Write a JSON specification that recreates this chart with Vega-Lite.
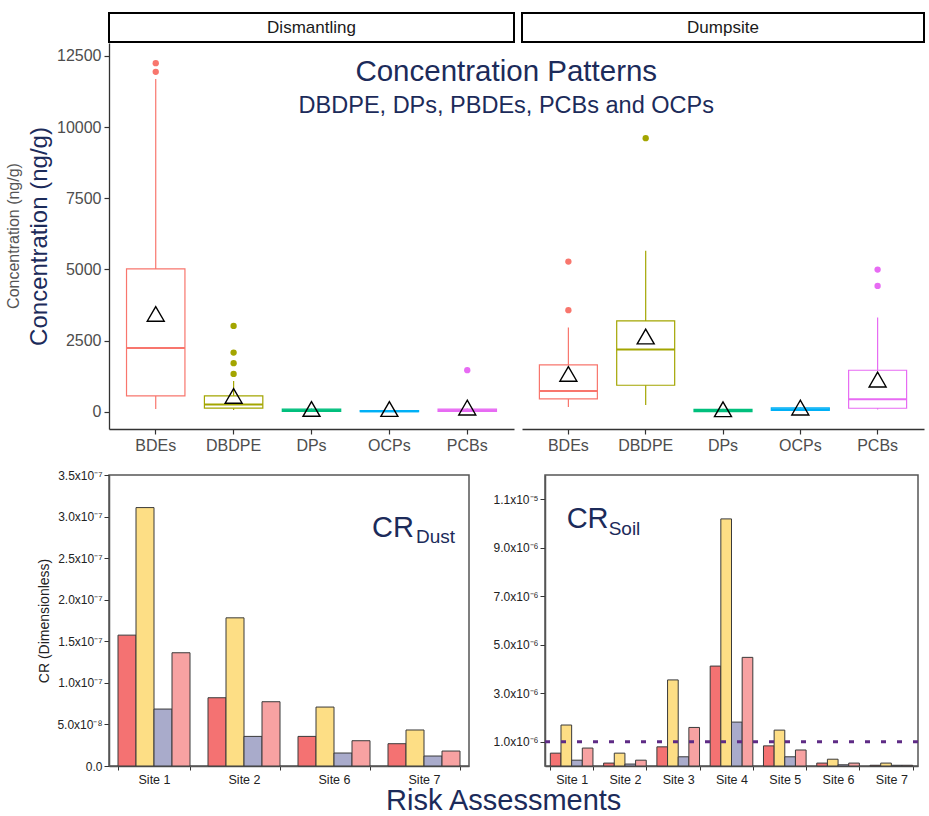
{
  "$schema": "https://vega.github.io/schema/vega-lite/v6.json",
  "background": "white",
  "padding": {"top": 12, "left": 5, "right": 0, "bottom": 0},
  "config": {
    "font": "Liberation Sans",
    "view": {"stroke": null},
    "axis": {"grid": false, "labelFont": "Liberation Sans", "titleFont": "Liberation Sans"},
    "title": {"font": "Liberation Sans", "subtitleFont": "Liberation Sans"}
  },
  "resolve": {"scale": {"color": "independent", "fill": "independent", "stroke": "independent"}},
  "datasets": {
    "box": [
      {"site": "Dismantling", "compound": "BDEs", "lower": 105, "q1": 562, "median": 2247, "q3": 5020, "upper": 11690, "mean": 3440},
      {"site": "Dismantling", "compound": "DBDPE", "lower": 70, "q1": 130, "median": 256, "q3": 562, "upper": 1088, "mean": 562},
      {"site": "Dismantling", "compound": "DPs", "lower": 10, "q1": 20, "median": 60, "q3": 100, "upper": 120, "mean": 105},
      {"site": "Dismantling", "compound": "OCPs", "lower": 5, "q1": 10, "median": 25, "q3": 45, "upper": 60, "mean": 100},
      {"site": "Dismantling", "compound": "PCBs", "lower": 10, "q1": 20, "median": 60, "q3": 100, "upper": 130, "mean": 150},
      {"site": "Dumpsite", "compound": "BDEs", "lower": 176, "q1": 456, "median": 737, "q3": 1650, "upper": 2960, "mean": 1334},
      {"site": "Dumpsite", "compound": "DBDPE", "lower": 246, "q1": 936, "median": 2188, "q3": 3195, "upper": 5653, "mean": 2645},
      {"site": "Dumpsite", "compound": "DPs", "lower": 5, "q1": 10, "median": 47, "q3": 90, "upper": 110, "mean": 94},
      {"site": "Dumpsite", "compound": "OCPs", "lower": 40, "q1": 50, "median": 94, "q3": 140, "upper": 160, "mean": 150},
      {"site": "Dumpsite", "compound": "PCBs", "lower": 82, "q1": 129, "median": 444, "q3": 1463, "upper": 3312, "mean": 1135}
    ],
    "outliers": [
      {"site": "Dismantling", "compound": "BDEs", "value": 11937},
      {"site": "Dismantling", "compound": "BDEs", "value": 12243},
      {"site": "Dismantling", "compound": "DBDPE", "value": 1334},
      {"site": "Dismantling", "compound": "DBDPE", "value": 1710},
      {"site": "Dismantling", "compound": "DBDPE", "value": 2082},
      {"site": "Dismantling", "compound": "DBDPE", "value": 3019},
      {"site": "Dismantling", "compound": "PCBs", "value": 1464},
      {"site": "Dumpsite", "compound": "BDEs", "value": 3570},
      {"site": "Dumpsite", "compound": "BDEs", "value": 5277},
      {"site": "Dumpsite", "compound": "DBDPE", "value": 9609},
      {"site": "Dumpsite", "compound": "PCBs", "value": 4424},
      {"site": "Dumpsite", "compound": "PCBs", "value": 4996}
    ],
    "dust": [
      {"site": "Site 1", "series": "S1", "cr": 1.574e-7},
      {"site": "Site 1", "series": "S2", "cr": 3.108e-7},
      {"site": "Site 1", "series": "S3", "cr": 0.685e-7},
      {"site": "Site 1", "series": "S4", "cr": 1.362e-7},
      {"site": "Site 2", "series": "S1", "cr": 0.821e-7},
      {"site": "Site 2", "series": "S2", "cr": 1.782e-7},
      {"site": "Site 2", "series": "S3", "cr": 0.356e-7},
      {"site": "Site 2", "series": "S4", "cr": 0.773e-7},
      {"site": "Site 6", "series": "S1", "cr": 0.356e-7},
      {"site": "Site 6", "series": "S2", "cr": 0.709e-7},
      {"site": "Site 6", "series": "S3", "cr": 0.156e-7},
      {"site": "Site 6", "series": "S4", "cr": 0.304e-7},
      {"site": "Site 7", "series": "S1", "cr": 0.268e-7},
      {"site": "Site 7", "series": "S2", "cr": 0.433e-7},
      {"site": "Site 7", "series": "S3", "cr": 0.12e-7},
      {"site": "Site 7", "series": "S4", "cr": 0.18e-7}
    ],
    "soil": [
      {"site": "Site 1", "series": "S1", "cr": 0.53e-6},
      {"site": "Site 1", "series": "S2", "cr": 1.69e-6},
      {"site": "Site 1", "series": "S3", "cr": 0.24e-6},
      {"site": "Site 1", "series": "S4", "cr": 0.74e-6},
      {"site": "Site 2", "series": "S1", "cr": 0.12e-6},
      {"site": "Site 2", "series": "S2", "cr": 0.53e-6},
      {"site": "Site 2", "series": "S3", "cr": 0.08e-6},
      {"site": "Site 2", "series": "S4", "cr": 0.24e-6},
      {"site": "Site 3", "series": "S1", "cr": 0.79e-6},
      {"site": "Site 3", "series": "S2", "cr": 3.55e-6},
      {"site": "Site 3", "series": "S3", "cr": 0.38e-6},
      {"site": "Site 3", "series": "S4", "cr": 1.59e-6},
      {"site": "Site 4", "series": "S1", "cr": 4.12e-6},
      {"site": "Site 4", "series": "S2", "cr": 10.19e-6},
      {"site": "Site 4", "series": "S3", "cr": 1.81e-6},
      {"site": "Site 4", "series": "S4", "cr": 4.48e-6},
      {"site": "Site 5", "series": "S1", "cr": 0.83e-6},
      {"site": "Site 5", "series": "S2", "cr": 1.48e-6},
      {"site": "Site 5", "series": "S3", "cr": 0.38e-6},
      {"site": "Site 5", "series": "S4", "cr": 0.66e-6},
      {"site": "Site 6", "series": "S1", "cr": 0.12e-6},
      {"site": "Site 6", "series": "S2", "cr": 0.28e-6},
      {"site": "Site 6", "series": "S3", "cr": 0.05e-6},
      {"site": "Site 6", "series": "S4", "cr": 0.12e-6},
      {"site": "Site 7", "series": "S1", "cr": 0.03e-6},
      {"site": "Site 7", "series": "S2", "cr": 0.12e-6},
      {"site": "Site 7", "series": "S3", "cr": 0.03e-6},
      {"site": "Site 7", "series": "S4", "cr": 0.03e-6}
    ]
  },
  "vconcat": [
    {
      "title": {"text": "Concentration Patterns", "subtitle": "DBDPE, DPs, PBDEs, PCBs and OCPs", "fontSize": 29.5, "subtitleFontSize": 23.5, "color": "#1C2B5A", "subtitleColor": "#1C2B5A", "fontWeight": "normal", "anchor": "middle", "offset": -106, "subtitlePadding": 6, "dx": 41},
      "spacing": 6,
      "hconcat": [
        {
          "spacing": 0,
          "vconcat": [
            {"width": 405, "height": 29, "view": {"stroke": "black", "strokeWidth": 2, "fill": "white"}, "data": {"values": [{"label": "Dismantling"}]}, "mark": {"type": "text", "fontSize": 17, "color": "#1A1A1A"}, "encoding": {"text": {"field": "label"}}},
            {
              "width": 405, "height": 386,
              "data": {"name": "box"},
              "transform": [{"filter": "datum.site === 'Dismantling'"}],
              "title": {"text": "Concentration (ng/g)", "orient": "left", "fontSize": 16, "color": "#555555", "fontWeight": "normal", "offset": 6},
              "encoding": {
                "x": {"field": "compound", "type": "nominal", "title": null, "scale": {"domain": ["BDEs", "DBDPE", "DPs", "OCPs", "PCBs"], "paddingInner": 0.25, "paddingOuter": 0.225},
                  "axis": {"labelFontSize": 16, "labelColor": "#4D4D4D", "tickColor": "#333333", "domainColor": "#333333", "domainWidth": 1.3, "tickSize": 5, "tickWidth": 1.2, "labelPadding": 3, "labelAngle": 0, "title": null}}
              },
              "layer": [
                {"mark": {"type": "rule", "strokeWidth": 1.2}, "encoding": {
                  "y": {"field": "lower", "type": "quantitative", "scale": {"domain": [-600, 12950], "nice": false, "zero": false},
                    "axis": {"values": [0, 2500, 5000, 7500, 10000, 12500], "format": "d", "title": "Concentration (ng/g)", "titleFontSize": 24, "titleColor": "#1C2B5A", "titleFontWeight": "normal", "titlePadding": 5, "labelFontSize": 16, "labelColor": "#4D4D4D", "tickColor": "#333333", "tickSize": 5, "tickWidth": 1.2, "domainColor": "#333333", "domainWidth": 1.3, "labelPadding": 3}},
                  "y2": {"field": "upper"},
                  "color": {"field": "compound", "type": "nominal", "scale": {"domain": ["BDEs", "DBDPE", "DPs", "OCPs", "PCBs"], "range": ["#F8766D", "#A3A500", "#00BF7D", "#00B0F6", "#E76BF3"]}, "legend": null}}},
                {"mark": {"type": "bar", "fill": "white", "strokeWidth": 1.2}, "encoding": {
                  "y": {"field": "q1", "type": "quantitative", "scale": {"domain": [-600, 12950], "nice": false, "zero": false}},
                  "y2": {"field": "q3"},
                  "stroke": {"field": "compound", "type": "nominal", "scale": {"domain": ["BDEs", "DBDPE", "DPs", "OCPs", "PCBs"], "range": ["#F8766D", "#A3A500", "#00BF7D", "#00B0F6", "#E76BF3"]}, "legend": null}}},
                {"mark": {"type": "bar", "fillOpacity": 0, "strokeWidth": 2}, "encoding": {
                  "y": {"field": "median", "type": "quantitative", "scale": {"domain": [-600, 12950], "nice": false, "zero": false}},
                  "y2": {"field": "median"},
                  "stroke": {"field": "compound", "type": "nominal", "scale": {"domain": ["BDEs", "DBDPE", "DPs", "OCPs", "PCBs"], "range": ["#F8766D", "#A3A500", "#00BF7D", "#00B0F6", "#E76BF3"]}, "legend": null}}},
                {"data": {"name": "outliers"}, "transform": [{"filter": "datum.site === 'Dismantling'"}], "mark": {"type": "circle", "size": 40, "opacity": 1}, "encoding": {
                  "y": {"field": "value", "type": "quantitative", "scale": {"domain": [-600, 12950], "nice": false, "zero": false}},
                  "color": {"field": "compound", "type": "nominal", "scale": {"domain": ["BDEs", "DBDPE", "DPs", "OCPs", "PCBs"], "range": ["#F8766D", "#A3A500", "#00BF7D", "#00B0F6", "#E76BF3"]}, "legend": null}}},
                {"mark": {"type": "point", "shape": "triangle-up", "size": 289, "color": "black", "strokeWidth": 1.4, "filled": false, "opacity": 1}, "encoding": {
                  "y": {"field": "mean", "type": "quantitative", "scale": {"domain": [-600, 12950], "nice": false, "zero": false}}}}
              ]
            }
          ]
        },
        {
          "spacing": 0,
          "vconcat": [
            {"width": 402, "height": 29, "view": {"stroke": "black", "strokeWidth": 2, "fill": "white"}, "data": {"values": [{"label": "Dumpsite"}]}, "mark": {"type": "text", "fontSize": 17, "color": "#1A1A1A"}, "encoding": {"text": {"field": "label"}}},
            {
              "width": 402, "height": 386,
              "data": {"name": "box"},
              "transform": [{"filter": "datum.site === 'Dumpsite'"}],
              "encoding": {
                "x": {"field": "compound", "type": "nominal", "title": null, "scale": {"domain": ["BDEs", "DBDPE", "DPs", "OCPs", "PCBs"], "paddingInner": 0.25, "paddingOuter": 0.225},
                  "axis": {"labelFontSize": 16, "labelColor": "#4D4D4D", "tickColor": "#333333", "domainColor": "#333333", "domainWidth": 1.3, "tickSize": 5, "tickWidth": 1.2, "labelPadding": 3, "labelAngle": 0, "title": null}}
              },
              "layer": [
                {"mark": {"type": "rule", "strokeWidth": 1.2}, "encoding": {
                  "y": {"field": "lower", "type": "quantitative", "scale": {"domain": [-600, 12950], "nice": false, "zero": false}, "axis": null},
                  "y2": {"field": "upper"},
                  "color": {"field": "compound", "type": "nominal", "scale": {"domain": ["BDEs", "DBDPE", "DPs", "OCPs", "PCBs"], "range": ["#F8766D", "#A3A500", "#00BF7D", "#00B0F6", "#E76BF3"]}, "legend": null}}},
                {"mark": {"type": "bar", "fill": "white", "strokeWidth": 1.2}, "encoding": {
                  "y": {"field": "q1", "type": "quantitative", "scale": {"domain": [-600, 12950], "nice": false, "zero": false}, "axis": null},
                  "y2": {"field": "q3"},
                  "stroke": {"field": "compound", "type": "nominal", "scale": {"domain": ["BDEs", "DBDPE", "DPs", "OCPs", "PCBs"], "range": ["#F8766D", "#A3A500", "#00BF7D", "#00B0F6", "#E76BF3"]}, "legend": null}}},
                {"mark": {"type": "bar", "fillOpacity": 0, "strokeWidth": 2}, "encoding": {
                  "y": {"field": "median", "type": "quantitative", "scale": {"domain": [-600, 12950], "nice": false, "zero": false}, "axis": null},
                  "y2": {"field": "median"},
                  "stroke": {"field": "compound", "type": "nominal", "scale": {"domain": ["BDEs", "DBDPE", "DPs", "OCPs", "PCBs"], "range": ["#F8766D", "#A3A500", "#00BF7D", "#00B0F6", "#E76BF3"]}, "legend": null}}},
                {"data": {"name": "outliers"}, "transform": [{"filter": "datum.site === 'Dumpsite'"}], "mark": {"type": "circle", "size": 40, "opacity": 1}, "encoding": {
                  "y": {"field": "value", "type": "quantitative", "scale": {"domain": [-600, 12950], "nice": false, "zero": false}, "axis": null},
                  "color": {"field": "compound", "type": "nominal", "scale": {"domain": ["BDEs", "DBDPE", "DPs", "OCPs", "PCBs"], "range": ["#F8766D", "#A3A500", "#00BF7D", "#00B0F6", "#E76BF3"]}, "legend": null}}},
                {"mark": {"type": "point", "shape": "triangle-up", "size": 289, "color": "black", "strokeWidth": 1.4, "filled": false, "opacity": 1}, "encoding": {
                  "y": {"field": "mean", "type": "quantitative", "scale": {"domain": [-600, 12950], "nice": false, "zero": false}, "axis": null}}}
              ]
            }
          ]
        }
      ]
    },
    {
      "title": {"text": "Risk Assessments", "orient": "bottom", "fontSize": 29, "color": "#1C2B5A", "fontWeight": "normal", "anchor": "middle", "offset": 1, "dx": 25},
      "spacing": 22,
      "resolve": {"scale": {"x": "independent", "y": "independent", "xOffset": "independent", "fill": "shared"}},
      "hconcat": [
        {
          "width": 360, "height": 291,
          "view": {"stroke": "#555555", "strokeWidth": 1.5},
          "layer": [
            {"data": {"name": "dust"}, "mark": {"type": "bar", "stroke": "#3A3A3A", "strokeWidth": 1}, "encoding": {
              "x": {"field": "site", "type": "nominal", "title": null, "scale": {"paddingInner": 0.2, "paddingOuter": 0.1},
                "axis": {"labelFontSize": 12.5, "labelColor": "#222222", "tickBand": "extent", "tickSize": 4, "tickColor": "#333333", "domainColor": "#555555", "domainWidth": 1.5, "labelAngle": 0, "labelPadding": 3, "title": null}},
              "xOffset": {"field": "series", "type": "nominal", "scale": {"domain": ["S1", "S2", "S3", "S4"]}},
              "y": {"field": "cr", "type": "quantitative", "scale": {"domain": [0, 3.5e-7], "nice": false},
                "axis": {"values": [0, 5e-8, 1e-7, 1.5e-7, 2e-7, 2.5e-7, 3e-7, 3.5e-7], "labelExpr": "datum.value == 0 ? '0.0' : (datum.value < 1e-7 ? format(datum.value * 1e8, '.1f') + 'x10⁻⁸' : format(datum.value * 1e7, '.1f') + 'x10⁻⁷')", "title": "CR (Dimensionless)", "titleFontSize": 14, "titleFontWeight": "normal", "titleColor": "#222222", "titlePadding": 5, "labelFontSize": 12, "labelColor": "#222222", "tickSize": 5, "tickColor": "#333333", "domainColor": "#555555", "domainWidth": 1.5}},
              "fill": {"field": "series", "type": "nominal", "scale": {"domain": ["S1", "S2", "S3", "S4"], "range": ["#F47272", "#FDDE85", "#A9ABCB", "#F7A2A2"]}, "legend": null}}},
            {"data": {"values": [{}]}, "mark": {"type": "text", "text": "CR", "fontSize": 29, "color": "#1C2B5A", "align": "right", "baseline": "middle", "dx": -10}, "encoding": {
              "x": {"datum": "Site 7", "type": "nominal"},
              "y": {"datum": 2.86e-7, "type": "quantitative"}}},
            {"data": {"values": [{}]}, "mark": {"type": "text", "text": "Dust", "fontSize": 19, "color": "#1C2B5A", "align": "left", "baseline": "middle", "dx": -8, "dy": 9}, "encoding": {
              "x": {"datum": "Site 7", "type": "nominal"},
              "y": {"datum": 2.86e-7, "type": "quantitative"}}}
          ]
        },
        {
          "width": 373, "height": 291,
          "view": {"stroke": "#555555", "strokeWidth": 1.5},
          "layer": [
            {"data": {"name": "soil"}, "mark": {"type": "bar", "stroke": "#3A3A3A", "strokeWidth": 1}, "encoding": {
              "x": {"field": "site", "type": "nominal", "title": null, "scale": {"paddingInner": 0.2, "paddingOuter": 0.1},
                "axis": {"labelFontSize": 12.5, "labelColor": "#222222", "tickBand": "extent", "tickSize": 4, "tickColor": "#333333", "domainColor": "#555555", "domainWidth": 1.5, "labelAngle": 0, "labelPadding": 3, "title": null}},
              "xOffset": {"field": "series", "type": "nominal", "scale": {"domain": ["S1", "S2", "S3", "S4"]}},
              "y": {"field": "cr", "type": "quantitative", "scale": {"domain": [0, 1.2e-5], "nice": false},
                "axis": {"values": [1e-6, 3e-6, 5e-6, 7e-6, 9e-6, 1.1e-5], "labelExpr": "datum.value >= 1e-5 ? format(datum.value * 1e5, '.1f') + 'x10⁻⁵' : format(datum.value * 1e6, '.1f') + 'x10⁻⁶'", "title": null, "labelFontSize": 12, "labelColor": "#222222", "tickSize": 5, "tickColor": "#333333", "domainColor": "#555555", "domainWidth": 1.5}},
              "fill": {"field": "series", "type": "nominal", "scale": {"domain": ["S1", "S2", "S3", "S4"], "range": ["#F47272", "#FDDE85", "#A9ABCB", "#F7A2A2"]}, "legend": null}}},
            {"data": {"values": [{}]}, "mark": {"type": "rule", "color": "#5E2B85", "strokeWidth": 3, "strokeDash": [5, 11]}, "encoding": {
              "y": {"datum": 1e-6, "type": "quantitative"}}},
            {"data": {"values": [{}]}, "mark": {"type": "text", "text": "CR", "fontSize": 29, "color": "#1C2B5A", "align": "left", "baseline": "middle", "dx": -5}, "encoding": {
              "x": {"datum": "Site 1", "type": "nominal"},
              "y": {"datum": 1.017e-5, "type": "quantitative"}}},
            {"data": {"values": [{}]}, "mark": {"type": "text", "text": "Soil", "fontSize": 19, "color": "#1C2B5A", "align": "left", "baseline": "middle", "dx": 37, "dy": 10}, "encoding": {
              "x": {"datum": "Site 1", "type": "nominal"},
              "y": {"datum": 1.017e-5, "type": "quantitative"}}}
          ]
        }
      ]
    }
  ],
  "spacing": 15
}
